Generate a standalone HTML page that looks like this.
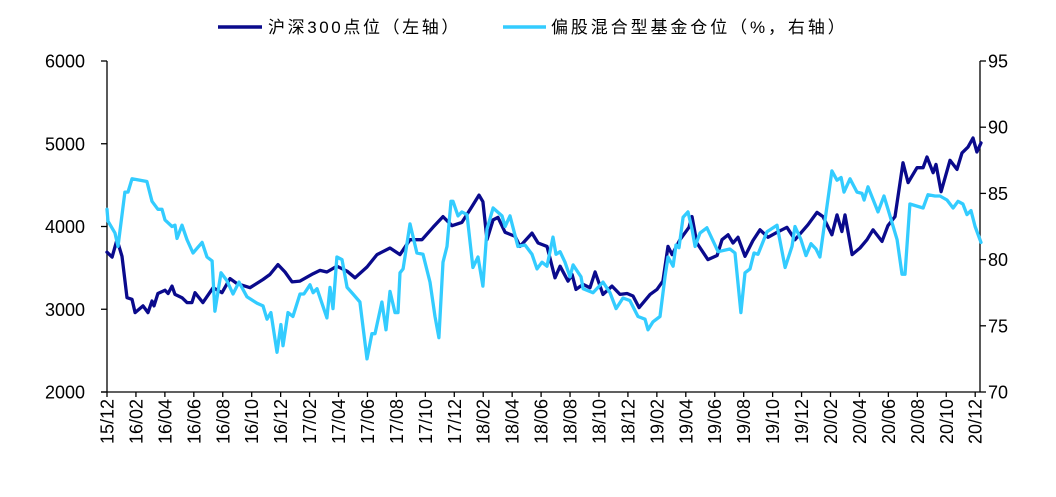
<!DOCTYPE html>
<html><head><meta charset="utf-8"><style>
html,body{margin:0;padding:0;background:#fff;}
svg{display:block;font-family:"Liberation Sans","Noto Sans CJK SC",sans-serif;}
</style></head><body>
<svg id="chart" width="1056" height="497" viewBox="0 0 1056 497" xmlns="http://www.w3.org/2000/svg">
<g id="legend">
  <line x1="218" y1="27" x2="262" y2="27" stroke="#0a0a8c" stroke-width="3.5"/>
  <text x="268" y="33" font-size="17" letter-spacing="2.6" fill="#000">沪深300点位（左轴）</text>
  <line x1="503" y1="27" x2="546" y2="27" stroke="#33ccff" stroke-width="3.5"/>
  <text x="551" y="33" font-size="17" letter-spacing="2.9" fill="#000">偏股混合型基金仓位（%，右轴）</text>
</g>
<g id="axes"></g>
<g id="series"></g>
</svg>
<script>
const leftTicks=[2000,3000,4000,5000,6000];
const rightTicks=[70,75,80,85,90,95];
const xTickLabels=["15/12","16/02","16/04","16/06","16/08","16/10","16/12","17/02","17/04","17/06","17/08","17/10","17/12","18/02","18/04","18/06","18/08","18/10","18/12","19/02","19/04","19/06","19/08","19/10","19/12","20/02","20/04","20/06","20/08","20/10","20/12"];
// months since 2015-12
const csiDates=[0,.35,.69,1.04,1.38,1.73,1.94,2.49,2.83,3.11,3.25,3.52,4.01,4.22,4.49,4.70,5.18,5.53,5.87,6.08,6.63,7.33,7.95,8.50,8.98,9.88,10.78,11.26,11.82,12.30,12.79,13.34,14.24,14.72,15.20,15.89,16.59,17.14,17.97,18.66,19.56,20.25,20.94,21.77,22.53,23.22,23.84,24.53,25.22,25.71,25.98,26.26,26.68,27.02,27.51,28.20,28.54,29.37,29.79,30.41,30.96,31.31,31.86,32.14,32.41,32.90,33.38,33.73,34.28,34.90,35.45,35.94,36.35,36.77,37.53,38.01,38.42,38.77,39.05,39.60,40.22,40.43,40.77,41.53,42.16,42.50,42.92,43.26,43.61,44.09,44.64,45.13,45.68,46.30,46.99,47.55,48.44,49.07,49.48,50.10,50.45,50.79,51.00,51.49,52.04,52.52,52.94,53.56,53.97,54.46,55.01,55.36,55.98,56.40,56.67,57.09,57.29,57.64,58.26,58.74,59.09,59.50,59.85,60.12,60.40];
const csiValues=[3690,3630,3840,3640,3140,3120,2960,3040,2960,3100,3040,3190,3230,3190,3280,3180,3140,3080,3080,3200,3080,3260,3200,3370,3310,3260,3360,3420,3540,3450,3330,3340,3430,3470,3450,3520,3460,3380,3510,3660,3740,3660,3840,3840,3990,4120,4010,4050,4240,4380,4300,3840,4080,4110,3930,3880,3760,3920,3800,3760,3380,3520,3340,3420,3240,3300,3260,3450,3180,3280,3180,3190,3160,3020,3180,3240,3340,3760,3660,3840,3990,4120,3800,3600,3650,3840,3900,3800,3870,3640,3830,3960,3870,3930,3990,3840,4020,4170,4120,3900,4140,3940,4140,3660,3740,3840,3960,3820,4010,4120,4770,4530,4710,4710,4840,4650,4750,4420,4800,4690,4890,4960,5070,4900,5010];
const posDates=[0,.07,.55,.76,1.24,1.45,1.73,2.76,3.11,3.52,3.80,4.01,4.49,4.70,4.84,5.18,5.53,5.94,6.57,6.91,7.26,7.46,7.88,8.29,8.71,9.12,9.67,10.37,10.78,11.06,11.33,11.75,12.02,12.16,12.51,12.85,13.34,13.61,14.03,14.24,14.51,15.20,15.41,15.62,15.89,16.24,16.59,17.00,17.48,17.97,18.31,18.52,19.00,19.28,19.56,19.90,20.11,20.25,20.46,20.94,21.42,21.84,22.32,22.67,22.94,23.22,23.50,23.77,23.91,24.26,24.53,24.88,25.29,25.64,25.98,26.26,26.68,27.30,27.51,27.85,28.40,28.89,29.37,29.72,30.06,30.41,30.82,31.03,31.31,31.65,32.00,32.21,32.76,32.90,33.59,34.28,34.76,35.18,35.66,36.14,36.70,37.18,37.39,37.73,38.22,38.56,38.77,39.12,39.32,39.53,39.81,40.15,40.43,40.64,40.98,41.46,42.23,43.05,43.40,43.81,44.09,44.44,44.71,44.99,45.61,46.30,46.86,47.34,47.55,47.96,48.31,48.65,49.00,49.27,50.10,50.45,50.73,50.93,51.35,51.83,52.18,52.32,52.59,53.28,53.70,54.11,54.60,54.94,55.15,55.49,56.40,56.74,57.22,57.57,58.05,58.47,58.81,59.15,59.43,59.71,59.99,60.40];
const posValues=[83.8,82.9,82.0,81.0,85.1,85.1,86.1,85.9,84.4,83.8,83.8,83.0,82.5,82.6,81.6,82.6,81.5,80.5,81.3,80.2,79.9,76.1,79.0,78.4,77.4,78.3,77.2,76.7,76.5,75.5,76.0,73.0,75.1,73.5,76.0,75.7,77.4,77.4,78.1,77.5,77.8,75.6,77.9,76.3,80.2,80.0,77.9,77.4,76.8,72.5,74.4,74.4,76.8,74.7,77.6,76.0,76.0,79.0,79.3,82.7,80.5,80.4,78.3,75.7,74.1,79.8,81.0,84.4,84.4,83.3,83.6,83.4,79.4,80.2,78.0,82.3,83.9,83.3,82.5,83.3,81.0,81.1,80.4,79.3,79.8,79.5,81.7,80.4,80.6,79.8,78.7,79.6,78.7,77.8,77.5,78.3,77.5,76.3,77.1,76.9,75.7,75.5,74.7,75.3,75.7,78.7,80.2,79.5,81.1,80.9,83.2,83.6,82.3,81.0,82.0,82.4,80.6,80.8,80.5,76.0,79.0,79.3,80.5,80.4,82.1,82.6,79.4,81.0,82.5,81.5,80.3,81.2,80.8,80.2,86.7,86.0,86.2,85.1,86.1,85.1,85.0,84.5,85.5,83.6,84.8,83.3,81.5,78.9,78.9,84.2,83.9,84.9,84.8,84.8,84.5,83.9,84.4,84.2,83.4,83.7,82.5,81.3];

const NS="http://www.w3.org/2000/svg";
const X0=107,X1=980,Y0=61,Y1=392;
const xScale=m=>X0+m*14.47;
const yLeft=v=>Y1-(v-2000)/4000*(Y1-Y0);
const yRight=v=>Y1-(v-70)/25*(Y1-Y0);
function mk(tag,attrs,parent){const e=document.createElementNS(NS,tag);for(const k in attrs)e.setAttribute(k,attrs[k]);parent.appendChild(e);return e;}
const axes=document.getElementById('axes');
let e;
e=mk('line',{x1:X0,y1:Y0,x2:X0,y2:Y1,stroke:'#000','stroke-width':1.3},axes);


e=mk('line',{x1:X1,y1:Y0,x2:X1,y2:Y1,stroke:'#000','stroke-width':1.3},axes);


e=mk('line',{x1:X0-6,y1:Y1,x2:X1,y2:Y1,stroke:'#000','stroke-width':1.3},axes);


leftTicks.forEach(v=>{const y=yLeft(v);
 e=mk('line',{x1:X0-6,y1:y,x2:X0,y2:y,stroke:'#000','stroke-width':1.3},axes);
 
 
 e=mk('text',{x:85,y:y+6.5,'text-anchor':'end','font-size':18,fill:'#000'},axes);e.textContent=v;
 
 
});
rightTicks.forEach(v=>{const y=yRight(v);
 e=mk('line',{x1:X1,y1:y,x2:X1+6,y2:y,stroke:'#000','stroke-width':1.3},axes);
 
 
 e=mk('text',{x:988,y:y+6.5,'text-anchor':'start','font-size':18,fill:'#000'},axes);e.textContent=v;
 
 
});
xTickLabels.forEach((lab,i)=>{const x=xScale(i*2);
 e=mk('line',{x1:x,y1:Y1,x2:x,y2:Y1+5,stroke:'#000','stroke-width':1.3},axes);
 
 
 e=mk('text',{x:0,y:0,'text-anchor':'end','font-size':18,fill:'#000',transform:`translate(${x+6.5},399) rotate(-90)`},axes);e.textContent=lab;
 
 
});
const series=document.getElementById('series');
function line(dates,vals,ys,color,name){
 const d=dates.map((m,i)=>(i?'L':'M')+xScale(m).toFixed(1)+','+ys(vals[i]).toFixed(1)).join('');
 const p=mk('path',{d:d,fill:'none',stroke:color,'stroke-width':3.3,'stroke-linejoin':'round','stroke-linecap':'round'},series);
 
 
}
line(csiDates,csiValues,yLeft,'#0a0a8c','csi300-line');
line(posDates,posValues,yRight,'#33ccff','fund-position-line');
</script>
</body></html>
